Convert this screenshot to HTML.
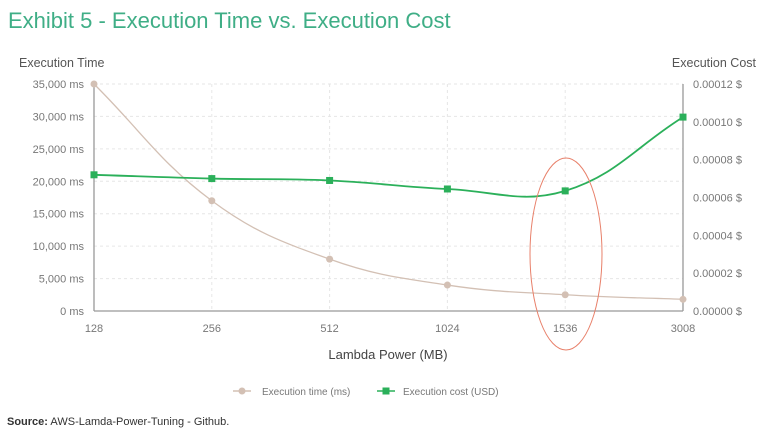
<!DOCTYPE html>
<html><head><meta charset="utf-8"><style>
body{margin:0;background:#fff;font-family:"Liberation Sans",sans-serif;}
svg text{font-family:"Liberation Sans",sans-serif;}
</style></head><body>
<svg id="chart" width="768" height="440" viewBox="0 0 768 440" xmlns="http://www.w3.org/2000/svg">
<text x="8" y="28" font-size="22" fill="#3fae86">Exhibit 5 - Execution Time vs. Execution Cost</text>
<text x="19" y="67" font-size="12.5" fill="#555">Execution Time</text>
<text x="756" y="67" font-size="12.5" fill="#555" text-anchor="end">Execution Cost</text>
<g id="grid"></g><g id="axes"></g>
<g id="series"></g>
<ellipse cx="566" cy="254" rx="36" ry="96" fill="none" stroke="#e8806a" stroke-width="1"/>
<text x="388" y="359" font-size="13" fill="#444" text-anchor="middle">Lambda Power (MB)</text>
<g>
<line x1="233" y1="391" x2="251" y2="391" stroke="#d3c0b4" stroke-width="1.5"/><circle cx="242" cy="391" r="3.5" fill="#d3c0b4"/>
<text x="262" y="395" font-size="10" fill="#777">Execution time (ms)</text></g>
<g>
<line x1="377" y1="391" x2="395" y2="391" stroke="#2bb05a" stroke-width="1.5"/><rect x="382.5" y="387.5" width="7" height="7" fill="#2bb05a"/>
<text x="403" y="395" font-size="10" fill="#777">Execution cost (USD)</text></g>
<text x="7" y="425" font-size="11" fill="#333"><tspan font-weight="bold">Source:</tspan> AWS-Lamda-Power-Tuning - Github.</text>
</svg>
<script>
const categories=["128","256","512","1024","1536","3008"];
const timeValues=[35000,17000,8000,4000,2500,1800];
const costValues=[0.000072,0.00007,0.000069,0.0000645,0.0000635,0.0001025];
const leftTicks=[0,5000,10000,15000,20000,25000,30000,35000];
const rightTicks=[0,0.00002,0.00004,0.00006,0.00008,0.0001,0.00012];
const X0=94,X1=683,Y0=311,Y1=84;
const NS="http://www.w3.org/2000/svg";
const xs=i=>X0+i*(X1-X0)/(categories.length-1);
const yL=v=>Y0-(v/35000)*(Y0-Y1);
const yR=v=>Y0-(v/0.00012)*(Y0-Y1);
function mk(tag,attrs,parent){const e=document.createElementNS(NS,tag);for(const k in attrs)e.setAttribute(k,attrs[k]);parent.appendChild(e);return e;}
const grid=document.getElementById('grid'),axes=document.getElementById('axes'),ser=document.getElementById('series');
leftTicks.forEach(t=>{const y=yL(t);
 if(t>0){const l=mk('line',{x1:X0,x2:X1,y1:y,y2:y,stroke:'#e6e6e6','stroke-dasharray':'3,3'},grid);
 
 }
 const tx=mk('text',{x:84,y:y+4,'font-size':11,fill:'#777','text-anchor':'end'},axes);
 tx.textContent=t.toLocaleString('en-US')+' ms';
 
 });
rightTicks.forEach(t=>{const y=yR(t);
 const tx=mk('text',{x:693,y:y+4,'font-size':11,fill:'#777'},axes);
 tx.textContent=t.toFixed(5)+' $';
 
 });
categories.forEach((c,i)=>{const x=xs(i);
 if(i>0&&i<categories.length-1){const l=mk('line',{x1:x,x2:x,y1:Y1,y2:Y0,stroke:'#e6e6e6','stroke-dasharray':'3,3'},grid);
 
 }
 const tx=mk('text',{x:x,y:332,'font-size':11,fill:'#777','text-anchor':'middle'},axes);
 tx.textContent=c;
 
 });
[[X0,Y1,X0,Y0],[X0,Y0,X1,Y0],[X1,Y1,X1,Y0]].forEach(a=>{const l=mk('line',{x1:a[0],y1:a[1],x2:a[2],y2:a[3],stroke:'#999','stroke-width':1.3},axes);
 
 });
function spline(pts,t){let d=`M${pts[0][0]},${pts[0][1]}`;
 const cp=pts.map((p,i)=>{const a=pts[Math.max(i-1,0)],b=pts[Math.min(i+1,pts.length-1)];
  const d01=Math.hypot(p[0]-a[0],p[1]-a[1]),d12=Math.hypot(b[0]-p[0],b[1]-p[1]);
  let fa=d01/(d01+d12)||0,fb=d12/(d01+d12)||0;fa*=t;fb*=t;
  return {p:[p[0]-fa*(b[0]-a[0]),p[1]-fa*(b[1]-a[1])],n:[p[0]+fb*(b[0]-a[0]),p[1]+fb*(b[1]-a[1])]};});
 for(let i=1;i<pts.length;i++){d+=` C${cp[i-1].n[0]},${cp[i-1].n[1]} ${cp[i].p[0]},${cp[i].p[1]} ${pts[i][0]},${pts[i][1]}`;}
 return d;}
const tp=timeValues.map((v,i)=>[xs(i),yL(v)]);
const cpts=costValues.map((v,i)=>[xs(i),yR(v)]);
const p1=mk('path',{d:spline(tp,0.4),fill:'none',stroke:'#d3c0b4','stroke-width':1.3},ser);


const p2=mk('path',{d:spline(cpts,0.4),fill:'none',stroke:'#2bb05a','stroke-width':1.8},ser);


tp.forEach(p=>{const c=mk('circle',{cx:p[0],cy:p[1],r:3.5,fill:'#d3c0b4'},ser);
 
 });
cpts.forEach(p=>{const r=mk('rect',{x:p[0]-3.5,y:p[1]-3.5,width:7,height:7,fill:'#2bb05a'},ser);
 
 });
</script>
</body></html>
